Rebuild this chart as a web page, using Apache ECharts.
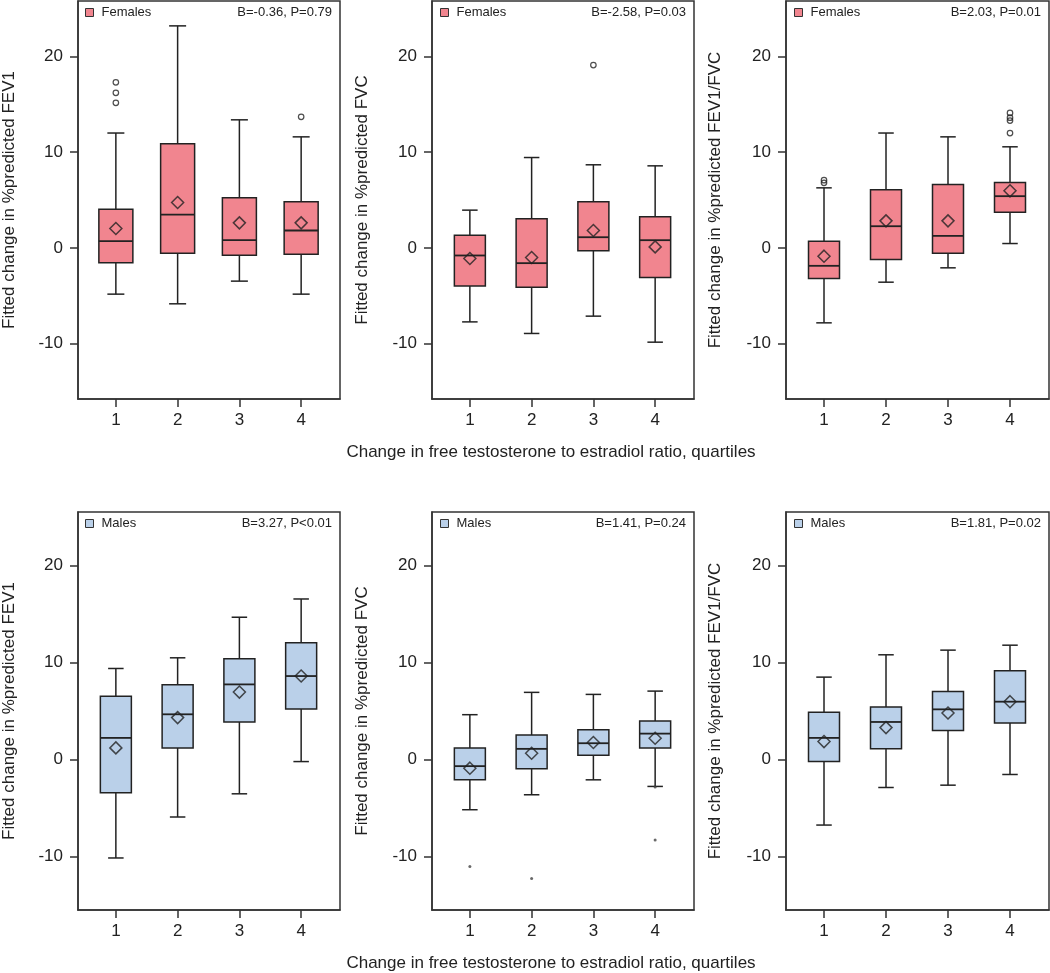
<!DOCTYPE html>
<html>
<head>
<meta charset="utf-8">
<script src="https://cdn.jsdelivr.net/npm/echarts@6/dist/echarts.min.js"></script>
<style>
html,body{margin:0;padding:0;background:#fff;}
#chart{width:1050px;height:973px;}
</style>
</head>
<body>
<div id="chart"></div>
<script>
// ---------- DATA ----------
const quartiles = [1, 2, 3, 4];
const yTicks = [-10, 0, 10, 20];
const xTitle = 'Change in free testosterone to estradiol ratio, quartiles';

// boxes: [lower whisker, Q1, median, Q3, upper whisker] per quartile
// Females
const fFEV1Box = [[-4.84, -1.57, 0.70, 4.04, 12.0], [-5.85, -0.56, 3.48, 10.87, 23.2], [-3.48, -0.77, 0.80, 5.23, 13.38], [-4.84, -0.66, 1.81, 4.81, 11.6]];
const fFEV1Mean = [2.02, 4.74, 2.61, 2.61];
const fFEV1Out = [[1, 17.3], [1, 16.2], [1, 15.16], [4, 13.69]];

const fFVCBox = [[-7.74, -4.0, -0.80, 1.32, 3.94], [-8.95, -4.11, -1.60, 3.03, 9.44], [-7.14, -0.31, 1.11, 4.81, 8.68], [-9.86, -3.10, 0.80, 3.24, 8.57]];
const fFVCMean = [-1.11, -1.01, 1.81, 0.10];
const fFVCOut = [[3, 19.1]];

const fRatioBox = [[-7.84, -3.2, -1.88, 0.70, 6.27], [-3.59, -1.22, 2.26, 6.06, 12.0], [-2.09, -0.56, 1.25, 6.62, 11.6], [0.45, 3.73, 5.40, 6.83, 10.56]];
const fRatioMean = [-0.87, 2.82, 2.82, 5.96];
const fRatioOut = [[1, 7.07], [1, 6.8], [4, 14.1], [4, 13.6], [4, 13.3], [4, 12.0]];

// Males
const mFEV1Box = [[-10.14, -3.42, 2.23, 6.51, 9.38], [-5.92, 1.20, 4.66, 7.71, 10.48], [-3.53, 3.87, 7.74, 10.38, 14.66], [-0.21, 5.21, 8.60, 12.02, 16.54]];
const mFEV1Mean = [1.20, 4.32, 6.95, 8.60];
const mFEV1Out = [];

const mFVCBox = [[-5.17, -2.09, -0.68, 1.20, 4.62], [-3.63, -0.96, 1.10, 2.53, 6.92], [-2.09, 0.45, 1.68, 3.08, 6.71], [-2.77, 1.20, 2.67, 3.97, 7.05]];
const mFVCMean = [-0.89, 0.65, 1.75, 2.19];
const mFVCOut = [[1, -11.03], [2, -12.26], [4, -2.84], [4, -8.29]];

const mRatioBox = [[-6.75, -0.21, 2.23, 4.86, 8.49], [-2.88, 1.10, 3.87, 5.41, 10.79], [-2.64, 2.98, 5.17, 7.02, 11.27], [-1.54, 3.77, 5.96, 9.14, 11.78]];
const mRatioMean = [1.85, 3.29, 4.79, 5.96];
const mRatioOut = [];

// ---------- LAYOUT / STYLE ----------
const FONT = "'Liberation Sans', Arial, Helvetica, sans-serif";
const INK = '#222';
const FEM = '#F1858F';
const MAL = '#BAD0E9';

const panels = [
  {grid: {left: 77, top: 1, width: 263, height: 398}, yr: [-15.8, 25.8], name: 'Fitted change in %predicted FEV1', gap: 60, box: fFEV1Box, mean: fFEV1Mean, out: fFEV1Out, sex: 'Females', fill: FEM, stat: 'B=-0.36, P=0.79', bw: 34, dot: false},
  {grid: {left: 432, top: 1, width: 262, height: 398}, yr: [-15.8, 25.8], name: 'Fitted change in %predicted FVC', gap: 61.5, box: fFVCBox, mean: fFVCMean, out: fFVCOut, sex: 'Females', fill: FEM, stat: 'B=-2.58, P=0.03', bw: 31, dot: false},
  {grid: {left: 786, top: 1, width: 263, height: 398}, yr: [-15.8, 25.8], name: 'Fitted change in %predicted FEV1/FVC', gap: 62, box: fRatioBox, mean: fRatioMean, out: fRatioOut, sex: 'Females', fill: FEM, stat: 'B=2.03, P=0.01', bw: 31, dot: false},
  {grid: {left: 77, top: 512, width: 263, height: 398}, yr: [-15.5, 25.5], name: 'Fitted change in %predicted FEV1', gap: 60, box: mFEV1Box, mean: mFEV1Mean, out: mFEV1Out, sex: 'Males', fill: MAL, stat: 'B=3.27, P<0.01', bw: 31, dot: false},
  {grid: {left: 432, top: 512, width: 262, height: 398}, yr: [-15.5, 25.5], name: 'Fitted change in %predicted FVC', gap: 61.5, box: mFVCBox, mean: mFVCMean, out: mFVCOut, sex: 'Males', fill: MAL, stat: 'B=1.41, P=0.24', bw: 31, dot: true},
  {grid: {left: 786, top: 512, width: 263, height: 398}, yr: [-15.5, 25.5], name: 'Fitted change in %predicted FEV1/FVC', gap: 62, box: mRatioBox, mean: mRatioMean, out: mRatioOut, sex: 'Males', fill: MAL, stat: 'B=1.81, P=0.02', bw: 31, dot: false}
];

function boxRenderer(bw, fill) {
  return function (params, api) {
    const x = api.value(0);
    const lo = api.coord([x, api.value(1)]);
    const q1 = api.coord([x, api.value(2)]);
    const md = api.coord([x, api.value(3)]);
    const q3 = api.coord([x, api.value(4)]);
    const hi = api.coord([x, api.value(5)]);
    const cx = lo[0], half = bw / 2, cap = bw / 4;
    const ls = {stroke: INK, lineWidth: 1.5};
    return {
      type: 'group',
      children: [
        {type: 'line', shape: {x1: cx, y1: q1[1], x2: cx, y2: lo[1]}, style: ls},
        {type: 'line', shape: {x1: cx - cap, y1: lo[1], x2: cx + cap, y2: lo[1]}, style: ls},
        {type: 'line', shape: {x1: cx, y1: q3[1], x2: cx, y2: hi[1]}, style: ls},
        {type: 'line', shape: {x1: cx - cap, y1: hi[1], x2: cx + cap, y2: hi[1]}, style: ls},
        {type: 'rect', shape: {x: cx - half, y: q3[1], width: bw, height: q1[1] - q3[1]}, style: {fill: fill, stroke: INK, lineWidth: 1.5}},
        {type: 'line', shape: {x1: cx - half, y1: md[1], x2: cx + half, y2: md[1]}, style: {stroke: INK, lineWidth: 1.8}}
      ]
    };
  };
}

const lineStyle = {color: '#333', width: 1.5};
const option = {
  animation: false,
  backgroundColor: '#fff',
  textStyle: {fontFamily: FONT},
  grid: panels.map(p => Object.assign({}, p.grid, {show: true, borderColor: '#333', borderWidth: 1.5, backgroundColor: 'transparent', containLabel: false})),
  xAxis: panels.map((p, i) => ({
    type: 'value', gridIndex: i, min: 0.387, max: 4.629,
    axisLine: {show: true, onZero: false, lineStyle: lineStyle},
    axisTick: {show: true, length: 8, customValues: quartiles, lineStyle: lineStyle},
    axisLabel: {customValues: quartiles, margin: 13, fontSize: 17, color: INK, fontFamily: FONT},
    splitLine: {show: false}
  })),
  yAxis: panels.map((p, i) => ({
    type: 'value', gridIndex: i, min: p.yr[0], max: p.yr[1],
    name: p.name, nameLocation: 'middle', nameGap: p.gap,
    nameTextStyle: {fontSize: 17, color: INK, fontFamily: FONT},
    axisLine: {show: true, onZero: false, lineStyle: lineStyle},
    axisTick: {show: true, length: 8, customValues: yTicks, lineStyle: lineStyle},
    axisLabel: {customValues: yTicks, margin: 15, fontSize: 17, color: INK, fontFamily: FONT},
    splitLine: {show: false}
  })),
  legend: panels.map(p => ({
    left: p.grid.left + 8, top: p.grid.top + 5,
    data: [{name: p.sex, icon: 'rect'}],
    itemWidth: 8, itemHeight: 8, padding: 0, selectedMode: false,
    itemStyle: {borderColor: '#333', borderWidth: 1},
    textStyle: {fontSize: 13, color: INK, fontFamily: FONT, padding: [0, 0, 0, 3]}
  })),
  title: panels.map(p => ({
    text: p.stat, right: 1050 - (p.grid.left + p.grid.width) + 8, top: p.grid.top + 5, padding: 0,
    textStyle: {fontSize: 13, fontWeight: 'normal', color: INK, fontFamily: FONT}
  })),
  graphic: [
    {type: 'text', x: 551, y: 452, style: {text: xTitle, fontSize: 17, fontFamily: FONT, fill: INK, align: 'center', verticalAlign: 'middle'}},
    {type: 'text', x: 551, y: 963, style: {text: xTitle, fontSize: 17, fontFamily: FONT, fill: INK, align: 'center', verticalAlign: 'middle'}}
  ],
  series: []
};

panels.forEach((p, i) => {
  option.series.push({
    type: 'custom', name: p.sex, xAxisIndex: i, yAxisIndex: i, z: 2,
    itemStyle: {color: p.fill},
    renderItem: boxRenderer(p.bw, p.fill),
    encode: {x: 0, y: [1, 2, 3, 4, 5]},
    data: quartiles.map((q, k) => [q].concat(p.box[k]))
  });
  option.series.push({
    type: 'scatter', name: 'mean' + i, xAxisIndex: i, yAxisIndex: i, z: 3,
    symbol: 'diamond', symbolSize: [12, 12],
    itemStyle: {color: 'rgba(0,0,0,0)', borderColor: INK, borderWidth: 1.5},
    data: quartiles.map((q, k) => [q, p.mean[k]])
  });
  option.series.push({
    type: 'scatter', name: 'out' + i, xAxisIndex: i, yAxisIndex: i, z: 3,
    symbol: 'circle', symbolSize: p.dot ? 3 : 5.5,
    itemStyle: p.dot ? {color: '#444'} : {color: 'rgba(0,0,0,0)', borderColor: INK, borderWidth: 1.2},
    data: p.out
  });
});

const chart = echarts.init(document.getElementById('chart'), null, {renderer: 'canvas'});
chart.setOption(option);
</script>
</body>
</html>
